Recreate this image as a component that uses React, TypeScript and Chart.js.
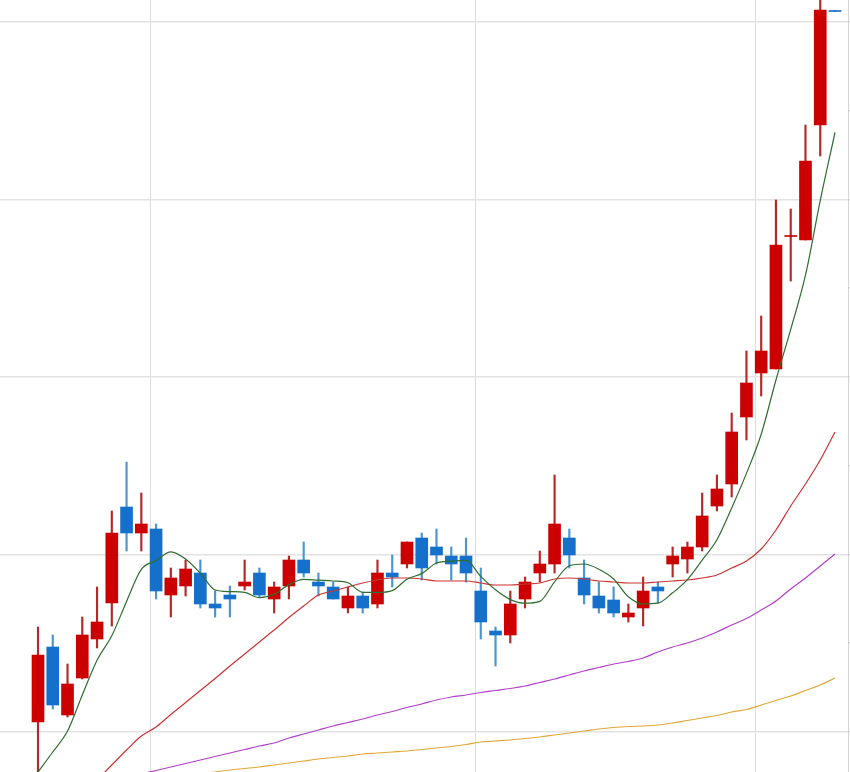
import { useEffect, useRef } from "react";
import { Chart, registerables } from "chart.js";

Chart.register(...registerables);

// Daily candles (price units), oldest first
const opens = [1100, 1250, 1114, 1188, 1266, 1338, 1530, 1478, 1486, 1354, 1372, 1398, 1336, 1354, 1372, 1398, 1346, 1372, 1424, 1380, 1370, 1328, 1352, 1336, 1398, 1416, 1468, 1450, 1432, 1432, 1362, 1282, 1274, 1346, 1398, 1416, 1468, 1388, 1352, 1344, 1310, 1328, 1370, 1416, 1426, 1450, 1532, 1576, 1710, 1798, 1806, 2071, 2064, 2294, 2523];
const highs = [1290, 1274, 1216, 1310, 1370, 1522, 1620, 1558, 1496, 1408, 1424, 1424, 1362, 1372, 1424, 1408, 1380, 1432, 1460, 1398, 1380, 1370, 1360, 1424, 1434, 1460, 1478, 1486, 1450, 1468, 1408, 1290, 1362, 1390, 1442, 1594, 1486, 1424, 1380, 1370, 1336, 1390, 1380, 1450, 1460, 1558, 1594, 1718, 1842, 1912, 2144, 2126, 2294, 2560, 2523];
const lows = [960, 1126, 1110, 1186, 1248, 1292, 1442, 1442, 1346, 1310, 1352, 1328, 1310, 1310, 1364, 1350, 1318, 1346, 1390, 1352, 1346, 1318, 1318, 1328, 1370, 1408, 1384, 1416, 1384, 1380, 1266, 1212, 1258, 1328, 1380, 1398, 1408, 1336, 1318, 1310, 1300, 1292, 1338, 1390, 1398, 1442, 1522, 1550, 1664, 1752, 1806, 1982, 2064, 2232, 2521];
const closes = [1234, 1134, 1176, 1274, 1300, 1478, 1478, 1496, 1362, 1388, 1406, 1336, 1328, 1346, 1380, 1354, 1370, 1424, 1398, 1372, 1346, 1352, 1328, 1398, 1390, 1460, 1408, 1434, 1416, 1398, 1300, 1274, 1336, 1380, 1416, 1496, 1434, 1354, 1328, 1318, 1318, 1362, 1362, 1432, 1450, 1512, 1566, 1680, 1778, 1842, 2054, 2073, 2222, 2524, 2521];

// Moving averages
const ma5 = [1000, 1040, 1082, 1154, 1223.6, 1272.4, 1341.2, 1405.2, 1422.8, 1440.4, 1426, 1397.6, 1364, 1360.8, 1359.2, 1348.8, 1355.6, 1374.8, 1385.2, 1383.6, 1382, 1378.4, 1359.2, 1359.2, 1362.8, 1385.6, 1396.8, 1418, 1421.6, 1423.2, 1391.2, 1364.4, 1344.8, 1337.6, 1341.2, 1380.4, 1412.4, 1416, 1405.6, 1386, 1350.4, 1336, 1337.6, 1358.4, 1384.8, 1423.6, 1464.4, 1528, 1597.2, 1675.6, 1784, 1885.2, 1993.6, 2142.8, 2279];
const ma20 = [864, 894, 924, 954, 984, 1014, 1044, 1072, 1090, 1115, 1139, 1163, 1187, 1212, 1236, 1260, 1284, 1309, 1332, 1354, 1362, 1370, 1378, 1384, 1388, 1388, 1386, 1382, 1382, 1382, 1378, 1374, 1374, 1376, 1378, 1386, 1388, 1386, 1382, 1380, 1378, 1378, 1380, 1382, 1384, 1388, 1394, 1408, 1422, 1446, 1484, 1532, 1576, 1624, 1680];
const ma60 = [940, 948, 956, 964, 972, 980, 988, 996, 1003, 1010, 1017, 1024, 1031, 1038, 1045, 1052, 1058, 1068, 1076, 1084, 1092, 1099, 1106, 1114, 1121, 1129, 1136, 1144, 1150, 1154, 1159, 1163, 1167, 1172, 1179, 1186, 1194, 1202, 1209, 1216, 1221, 1228, 1240, 1250, 1258, 1268, 1280, 1294, 1307, 1324, 1342, 1366, 1388, 1412, 1436];
const ma120 = [960, 964, 967, 970, 974, 978, 981, 984, 988, 991, 994, 997, 1000, 1004, 1007, 1010, 1014, 1018, 1022, 1026, 1029, 1032, 1036, 1038, 1040, 1042, 1045, 1048, 1051, 1055, 1060, 1062, 1064, 1067, 1070, 1074, 1078, 1082, 1086, 1089, 1091, 1092, 1094, 1098, 1103, 1108, 1113, 1120, 1125, 1134, 1143, 1152, 1163, 1174, 1188];

// Axis levels (labels are cut off in the reference)
const gridLevels = [1080, 1435, 1790, 2145, 2500];
const axisTickLevels = [1080, 1257.5, 1435, 1612.5, 1790, 1967.5, 2145, 2322.5, 2500];
const periodBreaks = [7.62, 29.61, 48.58];

const Y_MIN = 1000;
const Y_MAX = 2544;
const X_MIN = -2.575;
const X_MAX = 54.881;

const RED = "#cc0000";
const BLUE = "#1570cc";
const RED_WICK = "#b42828";
const BLUE_WICK = "#4a95d2";

export default function App() {
  const ref = useRef<HTMLCanvasElement>(null);

  useEffect(() => {
    document.body.style.margin = "0";
    document.body.style.overflow = "hidden";
    const idx = opens.map((_, i) => i);
    const up = idx.map((i) => closes[i] >= opens[i]);
    const lineDs = (label: string, arr: number[], color: string) => ({
      type: "line" as const,
      label,
      data: arr.map((v, i) => ({ x: i, y: v })),
      borderColor: color,
      borderWidth: 1.2,
      pointRadius: 0,
      cubicInterpolationMode: "monotone" as const,
      fill: false,
      order: 0,
    });

    const chart = new Chart(ref.current!, {
      type: "bar",
      data: {
        datasets: [
          lineDs("MA5", ma5, "#2f6e2f"),
          lineDs("MA20", ma20, "#cc3333"),
          lineDs("MA60", ma60, "#b040c8"),
          lineDs("MA120", ma120, "#e0a83a"),
          {
            type: "bar",
            label: "body",
            data: idx.map((i) => ({ x: i, y: [opens[i], closes[i]] })) as any,
            backgroundColor: up.map((u) => (u ? RED : BLUE)),
            borderWidth: 0,
            barThickness: 12,
            grouped: false,
            minBarLength: 1,
            order: 1,
          },
          {
            type: "bar",
            label: "wick",
            data: idx.map((i) => ({ x: i, y: [lows[i], highs[i]] })) as any,
            backgroundColor: up.map((u) => (u ? RED_WICK : BLUE_WICK)),
            borderWidth: 0,
            barThickness: 1.5,
            grouped: false,
            order: 2,
          },
        ] as any,
      },
      options: {
        responsive: false,
        maintainAspectRatio: false,
        animation: false,
        layout: { padding: 0 },
        plugins: { legend: { display: false }, tooltip: { enabled: false } },
        scales: {
          x: {
            type: "linear",
            min: X_MIN,
            max: X_MAX,
            offset: false,
            ticks: { display: false },
            grid: { drawTicks: false, offset: false, color: "#dcdcdc", lineWidth: 1 },
            border: { display: false },
            afterBuildTicks: (s: any) => {
              s.ticks = periodBreaks.map((v) => ({ value: v }));
            },
          },
          y: {
            type: "linear",
            position: "right",
            min: Y_MIN,
            max: Y_MAX,
            beginAtZero: false,
            ticks: { display: false },
            grid: {
              drawTicks: true,
              tickLength: 2,
              lineWidth: 1.6,
              color: (ctx: any) =>
                ctx.tick && gridLevels.includes(ctx.tick.value) ? "#e3e3e3" : "rgba(0,0,0,0)",
              tickColor: "#c8c8c8",
              tickWidth: 1,
            },
            border: { display: true, color: "#d4d4d4", width: 1 },
            afterBuildTicks: (s: any) => {
              s.ticks = axisTickLevels.map((v) => ({ value: v }));
            },
          },
        },
      } as any,
    });
    return () => chart.destroy();
  }, []);

  return <canvas ref={ref} width={850} height={772} style={{ display: "block" }} />;
}
